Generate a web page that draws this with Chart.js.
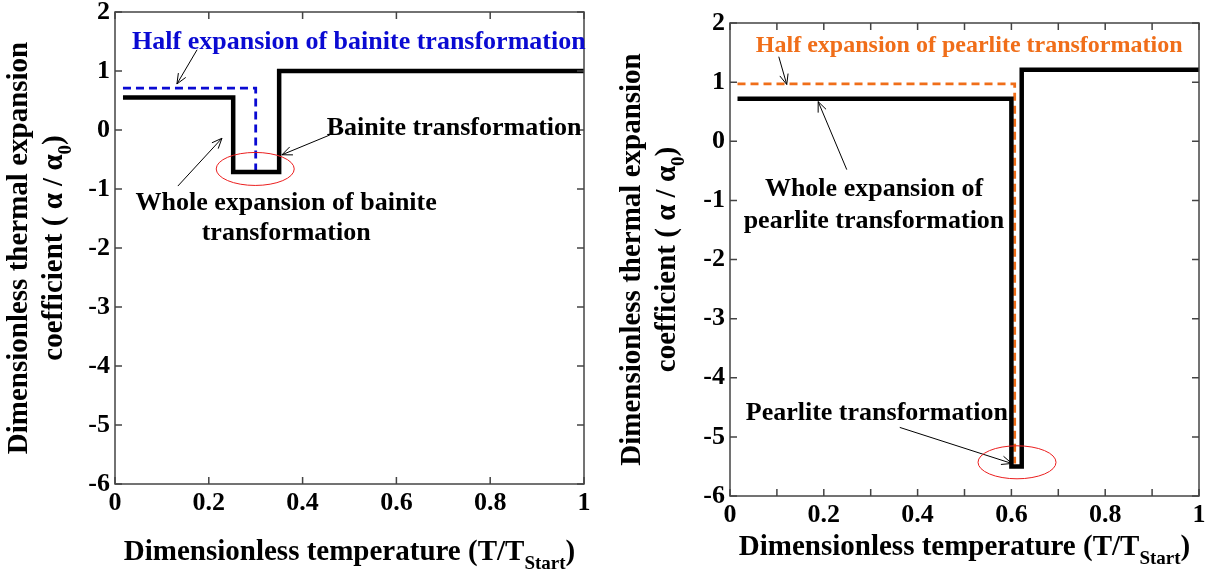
<!DOCTYPE html>
<html>
<head>
<meta charset="utf-8">
<script src="https://cdn.jsdelivr.net/npm/chart.js@4"></script>
<style>
  body { margin: 0; background: #fff; }
  .box { position: absolute; top: 0; width: 604px; height: 573px; }
</style>
</head>
<body>
<div class="box" style="left:0"><canvas id="bainiteChart" width="604" height="573"></canvas></div>
<div class="box" style="left:604px"><canvas id="pearliteChart" width="604" height="573"></canvas></div>
<script>
// bainite (left)
const bainiteWholeX = [0.017, 0.252, 0.252, 0.35, 0.35, 1.0];
const bainiteWholeY = [0.55, 0.55, -0.71, -0.71, 1.0, 1.0];
const bainiteHalfX = [0.017, 0.30, 0.30, 0.35];
const bainiteHalfY = [0.71, 0.71, -0.71, -0.71];

// pearlite (right)
const pearliteWholeX = [0.016, 0.60, 0.60, 0.622, 0.622, 1.0];
const pearliteWholeY = [0.72, 0.72, -5.5, -5.5, 1.21, 1.21];
const pearliteHalfX = [0.016, 0.607, 0.607];
const pearliteHalfY = [0.97, 0.97, -5.45];

const yTicks = [2, 1, 0, -1, -2, -3, -4, -5, -6];
const xTickLabels = ["0", "0.2", "0.4", "0.6", "0.8", "1"];

const FONT = "'Liberation Serif', 'Times New Roman', serif";
const BLUE = "rgb(10, 10, 210)";
const ORANGE = "rgb(240, 110, 25)";

function points(xs, ys) {
    return xs.map((x, i) => ({ x: x, y: ys[i] }));
}

// inward ticks + frame + annotations + axis titles
const decor = {
    id: "decor",
    afterDraw(chart, args, opts) {
        const ctx = chart.ctx;
        const a = chart.chartArea;
        const xs = chart.scales.x, ys = chart.scales.y;
        ctx.save();
        ctx.strokeStyle = "#444";
        ctx.lineWidth = 1.5;
        ctx.strokeRect(a.left, a.top, a.right - a.left, a.bottom - a.top);
        ctx.beginPath();
        xs.ticks.forEach(t => {
            const px = xs.getPixelForValue(t.value);
            ctx.moveTo(px, a.bottom); ctx.lineTo(px, a.bottom - 7);
            ctx.moveTo(px, a.top); ctx.lineTo(px, a.top + 7);
        });
        ys.ticks.forEach(t => {
            const py = ys.getPixelForValue(t.value);
            ctx.moveTo(a.left, py); ctx.lineTo(a.left + 7, py);
            ctx.moveTo(a.right, py); ctx.lineTo(a.right - 7, py);
        });
        ctx.stroke();

        // annotations
        (opts.notes || []).forEach(n => {
            ctx.fillStyle = n.color || "#000";
            ctx.font = "bold " + (n.size || 26) + "px " + FONT;
            ctx.textAlign = "center";
            ctx.textBaseline = "middle";
            ctx.fillText(n.text, xs.getPixelForValue(n.x), ys.getPixelForValue(n.y));
        });
        (opts.arrows || []).forEach(r => {
            const x1 = xs.getPixelForValue(r[0]), y1 = ys.getPixelForValue(r[1]);
            const x2 = xs.getPixelForValue(r[2]), y2 = ys.getPixelForValue(r[3]);
            const ang = Math.atan2(y2 - y1, x2 - x1);
            ctx.strokeStyle = "#000";
            ctx.lineWidth = 1;
            ctx.beginPath();
            ctx.moveTo(x1, y1); ctx.lineTo(x2, y2);
            ctx.moveTo(x2 - 11 * Math.cos(ang - 0.4), y2 - 11 * Math.sin(ang - 0.4));
            ctx.lineTo(x2, y2);
            ctx.lineTo(x2 - 11 * Math.cos(ang + 0.4), y2 - 11 * Math.sin(ang + 0.4));
            ctx.stroke();
        });
        (opts.rings || []).forEach(e => {
            ctx.strokeStyle = "rgb(235, 30, 30)";
            ctx.lineWidth = 1;
            ctx.beginPath();
            ctx.ellipse(xs.getPixelForValue(e[0]), ys.getPixelForValue(e[1]), 39, 16.5, 0, 0, Math.PI * 2);
            ctx.stroke();
        });

        // axis titles
        ctx.fillStyle = "#000";
        ctx.textBaseline = "middle";
        const big = "bold 29px " + FONT, small = "bold 19px " + FONT;
        function runs(parts, cx, cy) {
            let w = 0;
            parts.forEach(p => { ctx.font = p[1] ? small : big; w += ctx.measureText(p[0]).width; });
            let x = cx - w / 2;
            ctx.textAlign = "left";
            parts.forEach(p => {
                ctx.font = p[1] ? small : big;
                ctx.fillText(p[0], x, cy + (p[1] ? 11 : 0));
                x += ctx.measureText(p[0]).width;
            });
        }
        const midX = (a.left + a.right) / 2;
        runs([["Dimensionless temperature (T/T", 0], ["Start", 1], [")", 0]], midX, opts.xTitleY);
        ctx.save();
        ctx.translate(opts.yTitleX, (a.top + a.bottom) / 2);
        ctx.rotate(-Math.PI / 2);
        runs([["Dimensionless thermal expansion", 0]], 0, 0);
        runs([["coefficient ( \u03b1 / \u03b1", 0], ["0", 1], [")", 0]], 0, 35);
        ctx.restore();
        ctx.restore();
    }
};

function makeChart(id, datasets, xStep, layout, notes) {
    const ctx = document.getElementById(id).getContext("2d");
    return new Chart(ctx, {
        type: "scatter",
        data: { datasets: datasets },
        plugins: [decor],
        options: {
            responsive: false,
            animation: false,
            events: [],
            layout: { padding: layout.padding },
            plugins: {
                legend: { display: false },
                tooltip: { enabled: false },
                decor: notes
            },
            scales: {
                x: {
                    type: "linear",
                    min: 0, max: 1,
                    afterBuildTicks: s => {
                        s.ticks = [];
                        for (let i = 0; i <= Math.round(1 / xStep); i++) s.ticks.push({ value: +(i * xStep).toFixed(2) });
                    },
                    afterFit: s => {
                        s.height = layout.xHeight;
                        s.paddingLeft = 0; s.paddingRight = 0;
                    },
                    grid: { display: false, drawTicks: false },
                    border: { display: false },
                    ticks: {
                        autoSkip: false,
                        maxRotation: 0,
                        padding: 4,
                        color: "#000",
                        font: { family: FONT, size: 26, weight: "bold" },
                        callback: v => {
                            const i = Math.round(v / 0.2);
                            return Math.abs(v - i * 0.2) < 1e-6 ? xTickLabels[i] : "";
                        }
                    }
                },
                y: {
                    type: "linear",
                    min: -6, max: 2,
                    afterBuildTicks: s => { s.ticks = yTicks.map(v => ({ value: v })); },
                    afterFit: s => {
                        s.width = layout.yWidth;
                        s.paddingTop = 0; s.paddingBottom = 0;
                    },
                    grid: { display: false, drawTicks: false },
                    border: { display: false },
                    ticks: {
                        padding: 5,
                        color: "#000",
                        font: { family: FONT, size: 26, weight: "bold" },
                        callback: v => String(v)
                    }
                }
            }
        }
    });
}

function line(xs, ys, color, dashed) {
    return {
        data: points(xs, ys),
        showLine: true,
        borderColor: color,
        borderWidth: dashed ? 2.8 : 4.5,
        borderDash: dashed ? [8, 5] : [],
        pointRadius: 0,
        tension: 0,
        borderJoinStyle: "miter"
    };
}

makeChart("bainiteChart",
    [line(bainiteWholeX, bainiteWholeY, "#000", false), line(bainiteHalfX, bainiteHalfY, BLUE, true)],
    0.2,
    { padding: { left: 0, right: 20, top: 12, bottom: 0 }, yWidth: 115, xHeight: 89 },
    {
        notes: [
            { text: "Half expansion of bainite transformation", x: 0.52, y: 1.49, color: BLUE },
            { text: "Bainite transformation", x: 0.723, y: 0.03 },
            { text: "Whole expansion of bainite", x: 0.365, y: -1.25 },
            { text: "transformation", x: 0.365, y: -1.75 }
        ],
        arrows: [[0.175, 1.36, 0.132, 0.78], [0.458, -0.085, 0.356, -0.42], [0.134, -0.95, 0.228, -0.14]],
        rings: [[0.299, -0.66]],
        xTitleY: 553,
        yTitleX: 20
    });

makeChart("pearliteChart",
    [line(pearliteWholeX, pearliteWholeY, "#000", false), line(pearliteHalfX, pearliteHalfY, ORANGE, true)],
    0.1,
    { padding: { left: 0, right: 9, top: 23, bottom: 0 }, yWidth: 126, xHeight: 77 },
    {
        notes: [
            { text: "Half expansion of pearlite transformation", x: 0.51, y: 1.62, color: ORANGE, size: 24 },
            { text: "Whole expansion of", x: 0.307, y: -0.82 },
            { text: "pearlite transformation", x: 0.307, y: -1.36 },
            { text: "Pearlite transformation", x: 0.313, y: -4.6 }
        ],
        arrows: [[0.104, 1.43, 0.121, 0.96], [0.249, -0.48, 0.188, 0.67], [0.362, -4.84, 0.601, -5.45]],
        rings: [[0.612, -5.43]],
        xTitleY: 548,
        yTitleX: 29
    });
</script>
</body>
</html>
